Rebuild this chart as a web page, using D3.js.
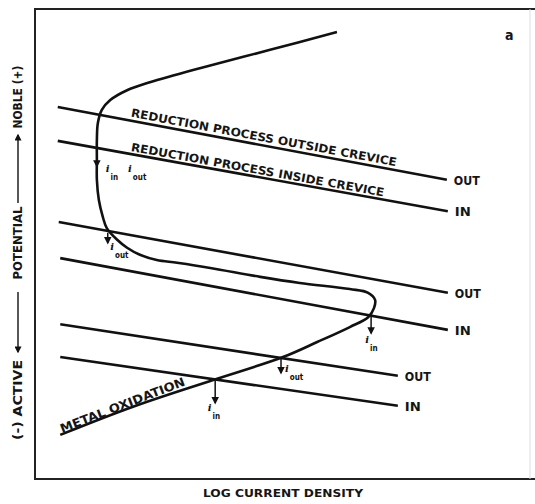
<!DOCTYPE html>
<html>
<head>
<meta charset="utf-8">
<script src="https://cdn.jsdelivr.net/npm/d3@7"></script>
<style>
  body { margin: 0; background: #fff; }
  text, tspan { font-family: "Liberation Sans Narrow", "DejaVu Sans Condensed", "Liberation Sans", sans-serif; font-weight: bold; fill: #151515; }
</style>
</head>
<body>
<svg id="chart" width="535" height="504"></svg>
<script>
// reduction (cathodic) lines, log i vs potential, arbitrary units 0..100
var lineLabels = ["OUT", "IN", "OUT", "IN", "OUT", "IN"];
var lineX0 = [4.6, 4.6, 4.8, 5.1, 5.1, 5.1];
var lineY0 = [79.3, 72.1, 54.8, 47.1, 33.0, 26.0];
var lineX1 = [83.2, 83.4, 83.4, 83.4, 73.3, 73.3];
var lineY1 = [63.8, 57.1, 39.7, 31.8, 22.0, 15.6];

// anodic polarization curve of the metal (top -> nose -> metal oxidation)
var curveX = [61.0, 47.5, 33.3, 23.2, 18.6, 15.2, 13.5, 12.7, 12.5, 12.5, 12.5, 12.9, 13.7, 14.5,
  16.6, 18.6, 21.2, 24.6, 28.7, 35.4, 45.5, 53.5, 63.6, 67.3, 68.7, 68.5, 67.3, 63.6, 57.0, 50.1,
  36.0, 19.8, 5.1];
var curveY = [95.3, 91.5, 87.6, 84.6, 82.9, 80.8, 78.7, 75.9, 72.3, 68.0, 63.8, 59.5, 55.9, 53.5,
  51.0, 49.3, 47.8, 46.7, 46.1, 45.0, 43.1, 41.8, 40.5, 39.7, 38.2, 36.5, 34.5, 32.4, 29.2, 26.0,
  21.1, 15.4, 9.4];

// corrosion current markers (arrow top / bottom)
var markX = [12.5, 14.7, 67.9, 49.7, 36.4];
var markTop = [68.9, 52.5, 34.8, 25.8, 20.9];
var markBot = [66.7, 50.3, 31.1, 22.6, 16.2];
// current labels: i with subscript
var iSubs = ["in", "out", "out", "in", "out", "in"];
var iX = [14.3, 18.8, 15.2, 66.7, 50.5, 34.9];
var iY = [65.5, 65.5, 48.8, 29.0, 22.8, 14.5];

var svg = d3.select("#chart");
var x = d3.scaleLinear().domain([0, 100]).range([35, 530]);
var y = d3.scaleLinear().domain([0, 100]).range([479, 10]);

svg.append("defs").append("marker")
  .attr("id", "ah").attr("viewBox", "0 0 10 10").attr("refX", 8).attr("refY", 5)
  .attr("markerWidth", 5).attr("markerHeight", 5).attr("orient", "auto")
  .append("path").attr("d", "M0,0L10,5L0,10z").attr("fill", "#111");

// frame
svg.append("line").attr("x1", 35).attr("x2", 535).attr("y1", 9).attr("y2", 9)
  .attr("stroke", "#222").attr("stroke-width", 2);
svg.append("line").attr("x1", 35).attr("x2", 535).attr("y1", 479).attr("y2", 479)
  .attr("stroke", "#222").attr("stroke-width", 2);
svg.append("line").attr("x1", 35).attr("x2", 35).attr("y1", 8).attr("y2", 480)
  .attr("stroke", "#222").attr("stroke-width", 2);
svg.append("line").attr("x1", 530).attr("x2", 530).attr("y1", 9).attr("y2", 479)
  .attr("stroke", "#ddd").attr("stroke-width", 1);

// reduction lines
var lines = d3.range(lineLabels.length);
svg.selectAll(".red").data(lines).enter().append("line")
  .attr("class", "red")
  .attr("x1", function(i) { return x(lineX0[i]); })
  .attr("y1", function(i) { return y(lineY0[i]); })
  .attr("x2", function(i) { return x(lineX1[i]); })
  .attr("y2", function(i) { return y(lineY1[i]); })
  .attr("stroke", "#111").attr("stroke-width", 2.6);

svg.selectAll(".lab").data(lines).enter().append("text")
  .attr("class", "lab")
  .attr("x", function(i) { return x(lineX1[i]) + 7; })
  .attr("y", function(i) { return y(lineY1[i]) + 5; })
  .attr("font-size", 12)
  .attr("textLength", function(i) { return lineLabels[i] == "OUT" ? 26 : 16; })
  .attr("lengthAdjust", "spacingAndGlyphs")
  .text(function(i) { return lineLabels[i]; });

// text lying on a line
function onLine(i, t, len, off, str) {
  var ax = x(lineX0[i]), ay = y(lineY0[i]), bx = x(lineX1[i]), by = y(lineY1[i]);
  var ang = Math.atan2(by - ay, bx - ax) * 180 / Math.PI;
  var px = ax + (bx - ax) * t, py = ay + (by - ay) * t;
  svg.append("text")
    .attr("transform", "translate(" + px + "," + py + ") rotate(" + ang + ")")
    .attr("y", -off)
    .attr("font-size", 11.5)
    .attr("textLength", len).attr("lengthAdjust", "spacingAndGlyphs")
    .text(str);
}
onLine(0, 0.185, 270, 4, "REDUCTION PROCESS OUTSIDE CREVICE");
onLine(1, 0.185, 257, 3, "REDUCTION PROCESS INSIDE CREVICE");

// anodic curve
var pts = curveX.map(function(v, i) { return [x(v), y(curveY[i])]; });
svg.append("path")
  .attr("d", d3.line().curve(d3.curveCatmullRom.alpha(0.5))(pts))
  .attr("fill", "none").attr("stroke", "#111").attr("stroke-width", 2.6);

// metal oxidation label along the last segment
var n = pts.length;
var mAng = Math.atan2(pts[n - 2][1] - pts[n - 1][1], pts[n - 2][0] - pts[n - 1][0]) * 180 / Math.PI;
svg.append("text")
  .attr("transform", "translate(" + (pts[n - 1][0] + 2) + "," + (pts[n - 1][1] - 1) + ") rotate(" + mAng + ")")
  .attr("y", -1)
  .attr("font-size", 12)
  .attr("textLength", 133).attr("lengthAdjust", "spacingAndGlyphs")
  .text("METAL OXIDATION");

// current markers
svg.selectAll(".mk").data(markX).enter().append("line")
  .attr("class", "mk")
  .attr("x1", function(d) { return x(d); })
  .attr("x2", function(d) { return x(d); })
  .attr("y1", function(d, i) { return y(markTop[i]); })
  .attr("y2", function(d, i) { return y(markBot[i]); })
  .attr("stroke", "#111").attr("stroke-width", 1.5)
  .attr("marker-end", "url(#ah)");

var il = svg.selectAll(".il").data(iSubs).enter().append("text")
  .attr("class", "il")
  .attr("x", function(d, i) { return x(iX[i]); })
  .attr("y", function(d, i) { return y(iY[i]); })
  .attr("font-size", 10);
il.append("tspan").text("i")
  .style("font-family", "'DejaVu Serif', serif")
  .style("font-style", "italic").style("fill", "#111");
il.append("tspan").attr("dy", 8).attr("dx", 1).attr("font-size", 8)
  .style("fill", "#111")
  .text(function(d) { return d; });

// panel letter
svg.append("text").attr("x", 505).attr("y", 40).attr("font-size", 14).text("a");

// x axis title
svg.append("text").attr("x", 203).attr("y", 497).attr("font-size", 11)
  .attr("textLength", 160).attr("lengthAdjust", "spacingAndGlyphs")
  .text("LOG CURRENT DENSITY");

// y axis title, read bottom to top
var yParts = [["NOBLE (+)", 97, 63], ["POTENTIAL", 243, 73], ["(-) ACTIVE", 400, 80]];
yParts.forEach(function(p) {
  svg.append("text")
    .attr("transform", "translate(22," + p[1] + ") rotate(-90)")
    .attr("text-anchor", "middle")
    .attr("font-size", 12)
    .attr("textLength", p[2]).attr("lengthAdjust", "spacingAndGlyphs")
    .text(p[0]);
});
svg.append("line").attr("x1", 18).attr("x2", 18).attr("y1", 203).attr("y2", 135)
  .attr("stroke", "#111").attr("stroke-width", 1.4).attr("marker-end", "url(#ah)");
svg.append("line").attr("x1", 18).attr("x2", 18).attr("y1", 292).attr("y2", 352)
  .attr("stroke", "#111").attr("stroke-width", 1.4).attr("marker-end", "url(#ah)");
</script>
</body>
</html>
